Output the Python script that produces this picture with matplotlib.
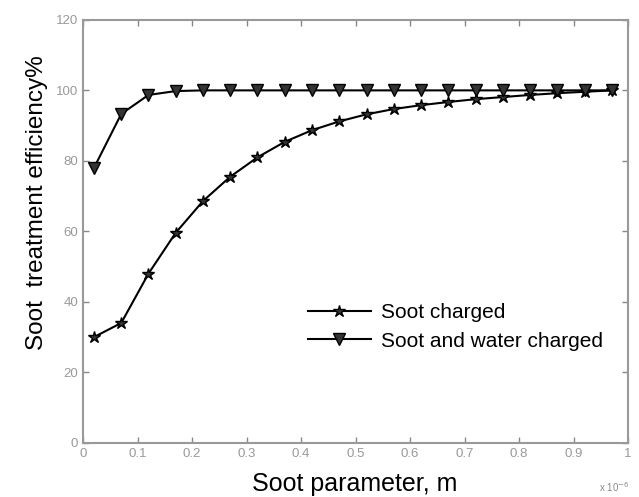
import matplotlib

matplotlib.use("Agg")

import matplotlib.pyplot as plt

plt.rcParams["font.family"] = ["Liberation Sans", "DejaVu Sans"]

# valores
x_vals = [0.02, 0.07, 0.12, 0.17, 0.22, 0.27, 0.32, 0.37, 0.42, 0.47,
          0.52, 0.57, 0.62, 0.67, 0.72, 0.77, 0.82, 0.87, 0.92, 0.97]
soot_charged = [30, 34, 48, 59.6, 68.6, 75.5, 81, 85.4, 88.7, 91.2,
                93.2, 94.7, 95.8, 96.7, 97.5, 98.1, 98.7, 99.2, 99.6, 100]
soot_water_charged = [78, 93.3, 98.7, 99.8, 100, 100, 100, 100, 100, 100,
                      100, 100, 100, 100, 100, 100, 100, 100, 100, 100]
x_ticks = [0, 0.1, 0.2, 0.3, 0.4, 0.5, 0.6, 0.7, 0.8, 0.9, 1]
x_tick_labels = ["0", "0.1", "0.2", "0.3", "0.4", "0.5", "0.6", "0.7", "0.8", "0.9", "1"]
y_ticks = [0, 20, 40, 60, 80, 100, 120]

fig = plt.figure(figsize=(6.39, 4.97), dpi=100)
ax = fig.add_axes([0.13, 0.109, 0.853, 0.851])

ax.plot(x_vals, soot_charged, color="black", linewidth=1.5, marker="*",
        markersize=9, markerfacecolor="#333333", markeredgecolor="black",
        label="Soot charged")
ax.plot(x_vals, soot_water_charged, color="black", linewidth=1.5, marker="v",
        markersize=8, markerfacecolor="#333333", markeredgecolor="black",
        label="Soot and water charged")

ax.set_xlim(0, 1)
ax.set_ylim(0, 120)
ax.set_xticks(x_ticks)
ax.set_xticklabels(x_tick_labels)
ax.set_yticks(y_ticks)
ax.tick_params(direction="in", top=True, right=True, length=4, width=1,
               color="#888888", labelcolor="#999999", labelsize=9.5)
for spine in ax.spines.values():
    spine.set_color("#999999")
    spine.set_linewidth(1.5)

ax.set_xlabel("Soot parameter, m", fontsize=18)
ax.xaxis.set_label_coords(0.499, -0.068)
ax.set_ylabel("Soot  treatment efficiency%", fontsize=17.5)
ax.yaxis.set_label_coords(-0.065, 0.567)
fig.text(0.985, 0.01, "x 10$^{-6}$", fontsize=7, color="#888888", ha="right")

ax.legend(loc="center left", bbox_to_anchor=(0.413, 0.274), frameon=False,
          fontsize=15, handlelength=3.0, handletextpad=0.5, labelspacing=0.45,
          borderpad=0, borderaxespad=0)

plt.savefig("out.png", dpi=100)
plt.close()
